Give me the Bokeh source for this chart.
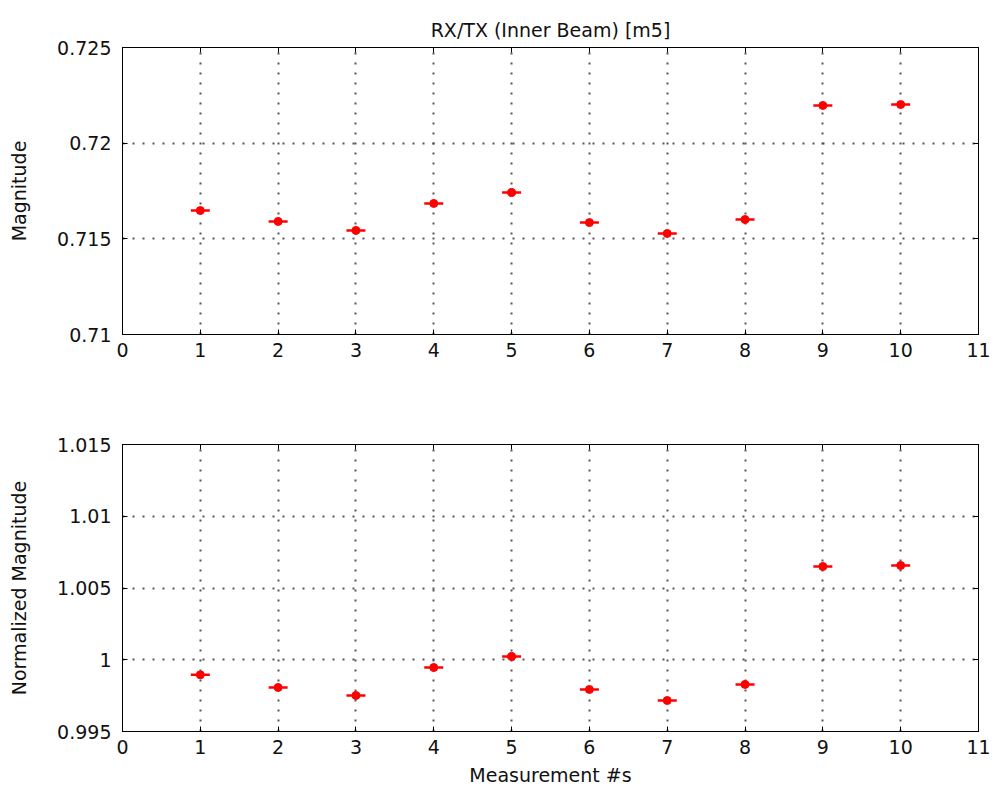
from bokeh.plotting import figure
from bokeh.layouts import column
from bokeh.models import LinearAxis, FixedTicker, CustomJSTickFormatter, Range1d
from bokeh.embed import file_html
from bokeh.resources import INLINE

measurements = [1, 2, 3, 4, 5, 6, 7, 8, 9, 10]
magnitude = [0.71648, 0.71591, 0.71544, 0.71685, 0.71742, 0.71585, 0.71528, 0.71601, 0.72197, 0.72202]
norm_magnitude = [0.99895, 0.99807, 0.99751, 0.99946, 1.00023, 0.99793, 0.99716, 0.99828, 1.00650, 1.00657]

x_ticks = list(range(0, 12))
top_y_ticks = [0.71, 0.715, 0.72, 0.725]
bot_y_ticks = [0.995, 1.0, 1.005, 1.01, 1.015]
title_text = "RX/TX (Inner Beam) [m5]"

FONT = "DejaVu Sans"
FS = "19px"

fmt_js = "return parseFloat(tick.toFixed(4)).toString();"


def make_fig(yvals, yticks, ylabel, title=None, xlabel=None, top_border=47, bottom_border=66):
    p = figure(width=1004, height=top_border + 287 + bottom_border,
               frame_width=856, frame_height=287,
               min_border_left=122, min_border_right=26,
               min_border_top=top_border, min_border_bottom=bottom_border,
               x_range=Range1d(0, 11), y_range=Range1d(yticks[0], yticks[-1]),
               output_backend="svg", toolbar_location=None,
               background_fill_color="white", border_fill_color="white")
    if title:
        p.title.text = title
        p.title.align = "center"
        p.title.vertical_align = "top"
        p.title.offset = 20
        p.title.text_font = FONT
        p.title.text_font_size = FS
        p.title.text_font_style = "normal"
        p.title.text_color = "#111111"
        p.title.standoff = 10
    p.outline_line_color = "black"
    p.outline_line_alpha = 1
    for ax in (p.xaxis[0], p.yaxis[0]):
        ax.major_tick_in = 5
        ax.major_tick_out = 0
        ax.minor_tick_line_color = None
        ax.axis_line_color = "black"
        ax.major_tick_line_color = "black"
        ax.major_label_text_font = FONT
        ax.major_label_text_font_size = FS
        ax.major_label_text_color = "#111111"
        ax.axis_label_text_font = FONT
        ax.axis_label_text_font_size = FS
        ax.axis_label_text_font_style = "normal"
        ax.axis_label_text_color = "#111111"
    p.xaxis[0].ticker = FixedTicker(ticks=x_ticks)
    p.yaxis[0].ticker = FixedTicker(ticks=yticks)
    p.yaxis[0].formatter = CustomJSTickFormatter(code=fmt_js)
    p.xaxis[0].major_label_standoff = 8
    p.yaxis[0].major_label_standoff = 11
    p.yaxis[0].axis_label = ylabel
    p.yaxis[0].axis_label_standoff = 24
    if xlabel:
        p.xaxis[0].axis_label = xlabel
        p.xaxis[0].axis_label_standoff = 7

    # right and top axes (ticks only)
    for loc, tick in (("right", yticks), ("above", x_ticks)):
        ax = LinearAxis(ticker=FixedTicker(ticks=tick), major_tick_in=5, major_tick_out=0,
                        major_label_text_font_size="0px", major_label_standoff=0,
                        minor_tick_line_color=None, axis_line_color="black",
                        major_tick_line_color="black")
        ax.formatter = CustomJSTickFormatter(code="return '';")
        p.add_layout(ax, loc)

    for g in (p.xgrid[0], p.ygrid[0]):
        g.grid_line_color = "#444444"
        g.grid_line_dash = "2 8"
        g.grid_line_width = 2
        g.grid_line_alpha = 0.9
    p.xgrid[0].ticker = FixedTicker(ticks=x_ticks)
    p.ygrid[0].ticker = FixedTicker(ticks=yticks)

    p.scatter(measurements, yvals, marker="dash", size=19, line_width=2.5, line_color="#ff0000")
    p.scatter(measurements, yvals, marker="circle", size=8, fill_color="#ff0000", line_color="#ff0000")
    return p


p1 = make_fig(magnitude, top_y_ticks, "Magnitude", title=title_text,
              top_border=47, bottom_border=66)
p2 = make_fig(norm_magnitude, bot_y_ticks, "Normalized Magnitude", xlabel="Measurement #s",
              top_border=44, bottom_border=68)

layout = column(p1, p2, spacing=0)
open("out.html", "w").write(file_html(layout, INLINE))
